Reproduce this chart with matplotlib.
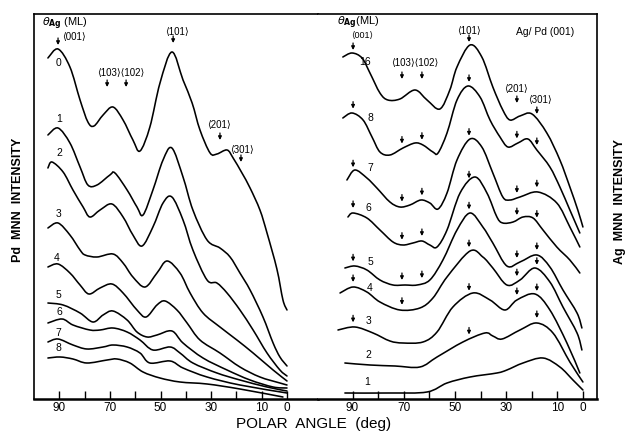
import numpy as np
import matplotlib.pyplot as plt
from matplotlib.path import Path
from matplotlib.patches import PathPatch

plt.rcParams['font.family'] = ['Liberation Sans', 'DejaVu Sans']

# Pd MNN polar scans, one per Ag coverage (ML): (polar angle deg, intensity arb.)
pd_0 = [(94.5,341),(90.5,350),(85.8,332),(81.8,299),(78.7,277),(76.3,273),(72.7,284),(68.8,292),
        (64.8,279),(60.9,259),(58.1,248),(54.2,272),(50.2,316),(45.5,347),(41.1,319),(37.5,296),
        (34.4,269),(30.4,246),(27.7,245),(23.7,249),(21.3,241),(17.8,226),(14.6,211),(10.7,189),
        (7.9,166),(4.0,130),(1.6,99),(0,89)]
pd_1 = [(94.5,264),(90.5,271),(85.8,256),(81.8,232),(78.7,214),(75.1,214),(70.0,224),(68.0,226),
        (63.2,209),(59.3,192),(56.9,184),(53.0,209),(49.0,239),(45.5,251),(41.1,222),(37.2,189),
        (31.6,159),(26.5,151),(22.5,142),(18.6,126),(14.6,109),(9.5,82),(5.5,56),(2.8,42),(0,33)]
pd_2 = [(94.5,231),(92.9,237),(88.5,227),(84.6,209),(80.6,192),(77.9,182),(73.9,189),(69.2,195),
        (64.8,182),(60.9,164),(57.3,153),(53.0,172),(49.0,196),(45.5,202),(41.1,179),(37.2,149),
        (31.6,119),(27.7,116),(23.7,106),(18.6,89),(13.4,69),(7.9,46),(2.8,29),(0,23)]
pd_3 = [(94.5,171),(90.5,176),(85.8,164),(81.8,149),(79.8,144),(75.1,142),(68.8,145),(64.8,136),
        (60.9,122),(56.1,112),(51.4,126),(47.4,138),(42.3,126),(38.3,106),(33.2,86),(26.5,72),
        (19.8,59),(13.4,46),(5.5,29),(0,18)]
pd_4 = [(94.5,132),(90.5,135),(85.8,126),(81.8,114),(78.3,105),(73.9,111),(69.2,115),(64.8,106),
        (59.3,89),(55.7,82),(51.4,94),(48.2,98),(43.5,89),(39.5,76),(34.4,59),(26.5,46),
        (18.6,32),(10.7,22),(2.8,16),(0,14)]
pd_5 = [(94.5,96),(88.5,94),(81.8,86),(76.7,77),(72.7,84),(68.8,88),(63.2,79),(59.3,67),
        (55.3,62),(51.4,64),(45.5,68),(41.1,56),(33.2,41),(23.7,29),(14.6,19),(5.5,12),(0,11)]
pd_6 = [(94.5,76),(88.9,80),(84.6,74),(77.9,69),(73.9,69),(68.8,71),(63.2,67),(58.1,59),
        (53.0,49),(46.2,52),(42.3,46),(37.2,36),(27.7,26),(18.6,19),(7.9,12),(0,8)]
pd_7 = [(94.5,57),(90.5,60),(84.6,54),(79.1,50),(72.7,52),(68.8,54),(63.2,52),(58.1,46),
        (54.2,36),(46.2,38),(41.1,31),(31.6,22),(18.6,14),(0,6)]
pd_8 = [(94.5,41),(89.7,42),(84.6,40),(79.1,36),(71.1,39),(67.2,40),(62.1,36),(56.9,27),
        (50.2,21),(42.3,17),(31.6,15),(18.6,10),(1.6,2)]

# Ag MNN polar scans
ag_16 = [(93.8,342),(90.2,346),(86.3,341),(83.2,326),(79.3,306),(76.2,299),(71.5,300),(65.6,309),
         (60.9,299),(55.9,290),(52.0,309),(49.2,332),(44.1,354),(39.5,342),(35.2,312),(31.3,289),
         (28.5,279),(24.6,283),(19.9,285),(14.1,266),(9.0,239),(5.1,212),(2.0,189),(0,172)]
ag_8 = [(93.8,281),(90.2,286),(85.9,279),(82.4,262),(79.3,247),(75.4,244),(70.3,251),(65.6,256),
        (62.5,254),(58.6,247),(56.6,246),(53.1,266),(49.2,299),(44.9,313),(40.2,302),(36.3,279),
        (32.4,262),(29.3,252),(25.4,256),(21.5,260),(18.0,249),(12.9,232),(9.0,212),(5.1,189),(1.2,166)]
ag_7 = [(92.2,219),(89.1,229),(84.4,221),(80.5,211),(75.4,197),(71.5,192),(67.6,194),(63.3,199),
        (59.8,196),(56.6,190),(53.1,206),(49.2,239),(44.1,260),(39.5,252),(35.2,226),(31.3,202),
        (28.5,199),(24.6,202),(17.6,207),(10.2,196),(5.1,172),(1.2,152)]
ag_6 = [(91.8,182),(89.8,186),(84.4,181),(79.3,169),(74.2,157),(70.3,154),(66.4,156),(62.9,158),
        (59.8,154),(57.0,152),(53.1,169),(48.0,206),(42.2,222),(37.5,206),(33.6,182),(31.3,176),
        (27.3,177),(23.4,182),(19.5,181),(15.6,169),(10.2,152),(5.1,139),(1.2,126)]
ag_5 = [(93.0,131),(89.1,133),(84.4,129),(79.3,119),(74.2,114),(69.5,114),(64.8,114),(59.8,119),
        (54.7,139),(49.2,169),(44.1,186),(39.1,172),(35.2,156),(29.7,133),(24.6,137),(18.0,144),
        (12.9,132),(7.8,109),(2.3,86),(0.4,71)]
ag_4 = [(94.9,106),(89.8,112),(84.4,107),(79.3,97),(71.5,89),(63.7,91),(58.6,101),(53.1,122),
        (44.1,148),(39.1,142),(35.2,131),(29.7,114),(24.6,119),(18.75,131),(12.9,117),(7.8,92),
        (2.3,66),(0.4,49)]
ag_3 = [(95.7,69),(89.1,72),(82.0,66),(75.4,58),(70.3,56),(62.5,57),(57.0,67),(50.8,92),
        (43.0,106),(36.3,99),(30.5,89),(25.8,99),(18.75,105),(12.9,89),(6.25,56),(1.2,26)]
ag_2 = [(93.0,36),(83.2,34),(73.4,33),(63.7,32),(57.0,42),(46.9,57),(38.3,66),(35.2,63),
        (31.6,60),(24.6,69),(18.0,76),(11.7,66),(5.1,37),(0,17)]
ag_1 = [(93.0,6),(75.4,6),(60.9,7),(53.1,16),(44.1,22),(33.6,26),(29.7,29),(23.4,36),
        (15.6,41),(9.0,32),(3.9,19),(0,9)]

pd_curves = [pd_0, pd_1, pd_2, pd_3, pd_4, pd_5, pd_6, pd_7, pd_8]
pd_names = ['0', '1', '2', '3', '4', '5', '6', '7', '8']
ag_curves = [ag_16, ag_8, ag_7, ag_6, ag_5, ag_4, ag_3, ag_2, ag_1]
ag_names = ['16', '8', '7', '6', '5', '4', '3', '2', '1']

# low-index directions marked by arrows
dirs = ['⟨001⟩', '⟨103⟩', '⟨102⟩', '⟨101⟩', '⟨201⟩', '⟨301⟩']
pd_dir_deg = [90.5, 71.1, 63.6, 45.0, 26.5, 18.2]
ag_dir_deg = [89.8, 70.7, 62.9, 44.5, 25.8, 18.0]
# which directions are marked on each unlabelled Ag curve (index into ag_dir_deg)
ag_marked = {'8': [0, 1, 2, 3, 4, 5], '7': [0, 1, 2, 3, 4, 5], '6': [0, 1, 2, 3, 4, 5],
             '5': [0, 1, 2, 3, 4, 5], '4': [0, 1, 3, 4, 5], '3': [0, 3, 4, 5], '2': [3, 5]}

fig = plt.figure(figsize=(6.28, 4.33), dpi=100)
axl = fig.add_axes([34/628, 34/433, 284/628, 385/433])
axr = fig.add_axes([318/628, 34/433, 279/628, 385/433])


def smooth(pts):
    # hand-drawn look: cubic Bezier segments through the read points
    p = np.asarray(pts, float)
    verts, codes = [p[0]], [Path.MOVETO]
    for i in range(len(p) - 1):
        p0 = p[i - 1] if i > 0 else p[i]
        p3 = p[i + 2] if i + 2 < len(p) else p[i + 1]
        verts += [p[i] + (p[i + 1] - p0) / 6, p[i + 1] - (p3 - p[i]) / 6, p[i + 1]]
        codes += [Path.CURVE4] * 3
    return Path(verts, codes)


def arrow(ax, ang, tip, length=8):
    ax.annotate('', xy=(ang, tip), xytext=(ang, tip + length),
                arrowprops=dict(arrowstyle='-|>', color='k', lw=0.9,
                                mutation_scale=5, shrinkA=0, shrinkB=0))


def curve_at(c, ang):
    a = np.array(c)
    return np.interp(ang, a[::-1, 0], a[::-1, 1])


for ax in (axl, axr):
    ax.set_ylim(0, 385)
    ax.set_yticks([])
    ax.set_xticks(range(0, 100, 10))
    ax.set_xticklabels(['0', '10', '', '30', '', '50', '', '70', '', '90'])
    ax.tick_params(axis='x', direction='in', length=6, width=1, labelsize=8.5, pad=2.5)
    for s in ax.spines.values():
        s.set_linewidth(1.2)
    ax.spines['bottom'].set_linewidth(1.8)

axl.set_xlim(100, -12.25)
axr.set_xlim(103.5, -5.5)
axl.spines['right'].set_visible(False)
axr.spines['left'].set_visible(False)

for c in pd_curves:
    axl.add_patch(PathPatch(smooth(c), fill=False, ec='k', lw=1.15, capstyle='round'))
for c in ag_curves:
    axr.add_patch(PathPatch(smooth(c), fill=False, ec='k', lw=1.15, capstyle='round'))

# curve labels
pd_lab_pos = [(90.5, 336), (90.1, 280), (90.1, 246), (90.5, 185), (90.9, 141),
              (90.5, 104), (90.1, 87), (90.5, 66), (90.5, 51)]
for n, (x, y) in zip(pd_names, pd_lab_pos):
    axl.text(x, y, n, fontsize=7.5, ha='center', va='center')
ag_lab_pos = [(85.2, 337), (83.2, 281), (83.2, 231), (84.0, 191), (83.2, 137),
              (83.2, 111), (83.6, 78), (84.0, 44), (84.4, 17)]
for n, (x, y) in zip(ag_names, ag_lab_pos):
    axr.text(x, y, n, fontsize=7.5, ha='center', va='center')

# labelled arrows on the clean Pd(001) curve
pd_tip = [354, 312, 312, 356, 259, 237]
for ang, tip in zip(pd_dir_deg, pd_tip):
    arrow(axl, ang, tip, 7)
axl.text(88.9, 362, dirs[0], fontsize=7, va='center')
axl.text(65.6, 326, dirs[1] + dirs[2], fontsize=7, ha='center', va='center')
axl.text(43.7, 367, dirs[3], fontsize=7, ha='center', va='center')
axl.text(26.9, 274, dirs[4], fontsize=7, ha='center', va='center')
axl.text(18.0, 249, dirs[5], fontsize=7, ha='center', va='center')
axl.text(96.8, 375, r'$\theta_{\mathbf{Ag}}$ (ML)', fontsize=8, va='center')

# labelled arrows on the 16 ML Ag curve
ag_tip = [349, 320, 320, 357, 296, 285]
for ang, tip in zip(ag_dir_deg, ag_tip):
    arrow(axr, ang, tip, 7)
axr.text(96.1, 376, r'$\theta_{\mathbf{Ag}}$(ML)', fontsize=8, va='center')
axr.text(86.3, 364, dirs[0], fontsize=6.5, ha='center', va='center')
axr.text(65.8, 336, dirs[1] + dirs[2], fontsize=7, ha='center', va='center')
axr.text(44.5, 368, dirs[3], fontsize=7, ha='center', va='center')
axr.text(26.0, 310, dirs[4], fontsize=7, ha='center', va='center')
axr.text(16.6, 299, dirs[5], fontsize=7, ha='center', va='center')
axr.text(14.8, 367, 'Ag/ Pd (001)', fontsize=7.5, ha='center', va='center')

# unlabelled arrows on the other Ag curves
for n, c in zip(ag_names, ag_curves):
    for i in ag_marked.get(n, []):
        ang = ag_dir_deg[i]
        arrow(axr, ang, curve_at(c, ang) + 5, 7)

fig.text(314/628, 1 - 424/433, 'POLAR  ANGLE  (deg)', fontsize=11, ha='center', va='center')
fig.text(18/628, 1 - 200/433, 'Pd  MNN  INTENSITY', fontsize=9, rotation=90,
         ha='center', va='center', fontweight='bold')
fig.text(620/628, 1 - 202/433, 'Ag  MNN  INTENSITY', fontsize=9, rotation=90,
         ha='center', va='center', fontweight='bold')

fig.savefig('out.png', dpi=100)
